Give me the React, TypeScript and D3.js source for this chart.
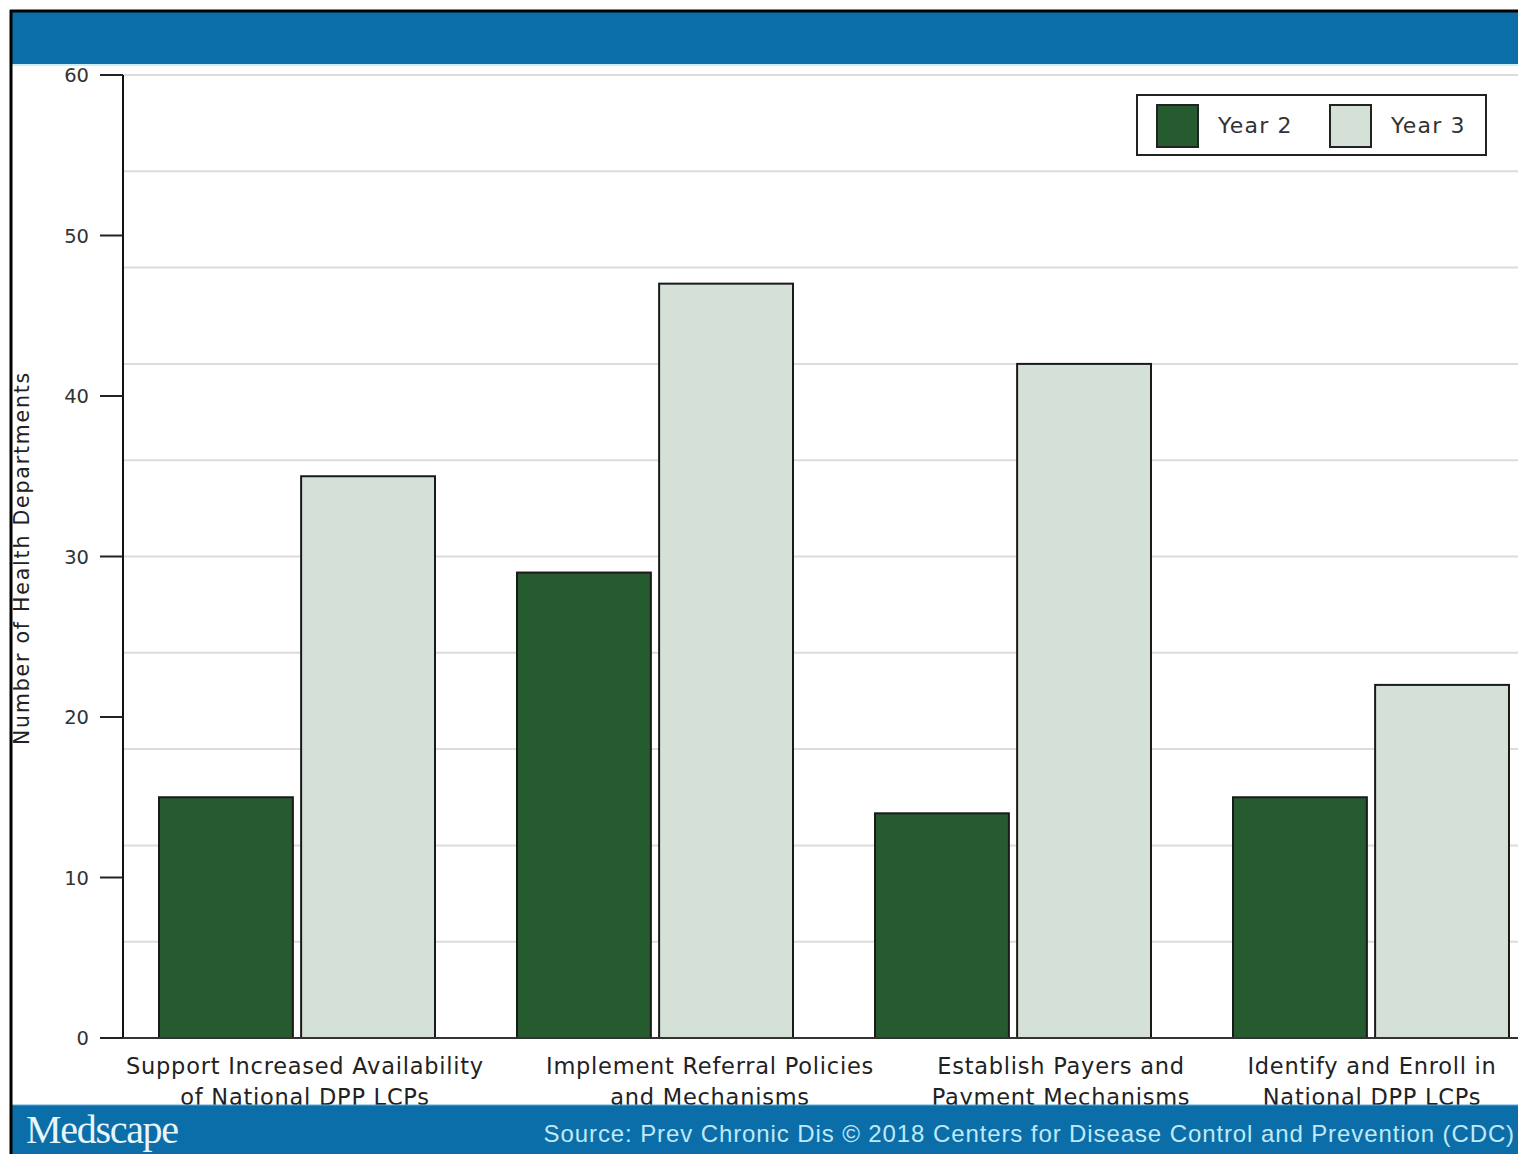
import React from "react";
import * as d3 from "d3";

const categories = [
  "Support Increased Availability of National DPP LCPs",
  "Implement Referral Policies and Mechanisms",
  "Establish Payers and Payment Mechanisms",
  "Identify and Enroll in National DPP LCPs",
];
const categoryLines = [
  ["Support Increased Availability", "of National DPP LCPs"],
  ["Implement Referral Policies", "and Mechanisms"],
  ["Establish Payers and", "Payment Mechanisms"],
  ["Identify and Enroll in", "National DPP LCPs"],
];
const seriesNames = ["Year 2", "Year 3"];
const year2 = [15, 29, 14, 15];
const year3 = [35, 47, 42, 22];
const yTicks = [0, 10, 20, 30, 40, 50, 60];
const gridValues = [6, 12, 18, 24, 30, 36, 42, 48, 54, 60];

// layout / style (not data)
const W = 1518;
const H = 1154;
const labelShift = [8, 55, 48, 1];
const colors: Record<string, string> = { "Year 2": "#265a2f", "Year 3": "#d5e0d6" };
const FONT = "'DejaVu Sans', Verdana, sans-serif";

export default function App() {
  const y = d3.scaleLinear().domain([0, 60]).range([1038, 75]);
  const x0 = d3.scaleBand<string>().domain(categories).range([118, 118 + 4 * 358]).padding(0);
  const x1 = d3
    .scaleBand<string>()
    .domain(seriesNames)
    .range([41, 41 + 276])
    .paddingInner(8 / 138)
    .paddingOuter(0);
  const values: Record<string, number[]> = { "Year 2": year2, "Year 3": year3 };

  return (
    <svg
      width={W}
      height={H}
      style={{ position: "absolute", left: 0, top: 0, background: "#fff" }}
      fontFamily={FONT}
    >
      <rect x={0} y={0} width={W} height={H} fill="#fff" />
      {/* gridlines */}
      {gridValues.map((g) => (
        <line key={g} x1={123} x2={W} y1={y(g)} y2={y(g)} stroke="#dcdcdc" strokeWidth={2} />
      ))}
      {/* bars */}
      {categories.map((c, i) => (
        <g key={c} transform={`translate(${x0(c)},0)`}>
          {seriesNames.map((s) => (
            <rect
              key={s}
              x={x1(s)}
              y={y(values[s][i])}
              width={x1.bandwidth()}
              height={y(0) - y(values[s][i])}
              fill={colors[s]}
              stroke="#1a1a1a"
              strokeWidth={2}
            />
          ))}
        </g>
      ))}
      {/* axes */}
      <line x1={123} x2={123} y1={75} y2={1039} stroke="#111" strokeWidth={2} />
      <line x1={122} x2={W} y1={1038} y2={1038} stroke="#333" strokeWidth={2} />
      {yTicks.map((t) => (
        <g key={t}>
          <line x1={100} x2={123} y1={y(t)} y2={y(t)} stroke="#222" strokeWidth={2} />
          <text x={89} y={y(t) + 7} textAnchor="end" fontSize={19.5} fill="#333">
            {t}
          </text>
        </g>
      ))}
      <text
        transform={`translate(29,${558}) rotate(-90)`}
        textAnchor="middle"
        fontSize={20.5}
        letterSpacing={1.8}
        fill="#222"
      >
        Number of Health Departments
      </text>
      {/* category labels */}
      {categories.map((c, i) => (
        <text
          key={c}
          y={1074}
          textAnchor="middle"
          fontSize={22.5}
          letterSpacing={0.75}
          fill="#222"
        >
          {categoryLines[i].map((l, j) => (
            <tspan key={j} x={(x0(c) as number) + 41 + 138 + labelShift[i]} dy={j === 0 ? 0 : 31}>
              {l}
            </tspan>
          ))}
        </text>
      ))}
      {/* legend */}
      <rect x={1137} y={95} width={349} height={60} fill="#fff" stroke="#222" strokeWidth={2} />
      {seriesNames.map((s, i) => (
        <g key={s} transform={`translate(${1157 + i * 173},0)`}>
          <rect x={0} y={105} width={41} height={42} fill={colors[s]} stroke="#222" strokeWidth={2} />
          <text x={61} y={133} fontSize={22} letterSpacing={1.2} fill="#333">
            {s}
          </text>
        </g>
      ))}
      {/* header */}
      <rect x={10} y={10} width={W - 10} height={55} fill="#0c6ea8" />
      <line x1={10} x2={W} y1={11} y2={11} stroke="#000" strokeWidth={3} />
      <line x1={10} x2={W} y1={65} y2={65} stroke="#c9f1fb" strokeWidth={2} />
      {/* footer */}
      <rect x={10} y={1105} width={W - 10} height={H - 1105} fill="#0c6ea8" />
      <line x1={10} x2={W} y1={1105} y2={1105} stroke="#5aa9d4" strokeWidth={1} />
      <text x={26} y={1143} fontFamily="'Liberation Serif', serif" fontSize={40} fill="#e6f6fb" letterSpacing={-1.3}>
        Medscape
      </text>
      <text
        x={1515}
        y={1142}
        textAnchor="end"
        fontFamily="'Liberation Sans', Arial, sans-serif"
        fontSize={24}
        letterSpacing={0.9}
        fill="#bfe9f8"
      >
        Source: Prev Chronic Dis © 2018 Centers for Disease Control and Prevention (CDC)
      </text>
      {/* left frame */}
      <line x1={11} x2={11} y1={10} y2={H} stroke="#000" strokeWidth={3} />
    </svg>
  );
}
